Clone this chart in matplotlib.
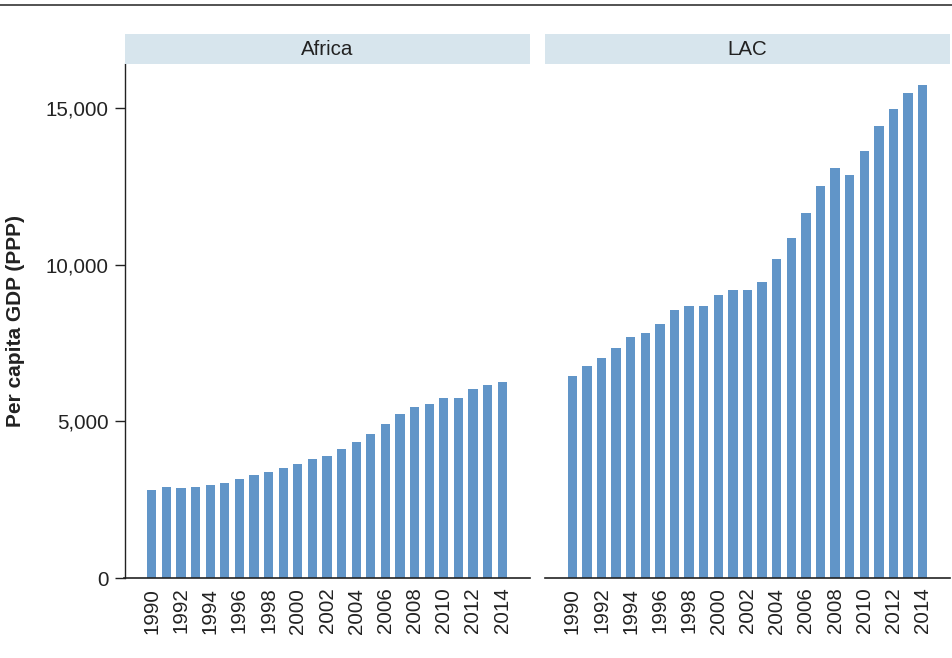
import matplotlib
matplotlib.use("Agg")
import matplotlib.pyplot as plt
from matplotlib.lines import Line2D
from matplotlib.patches import Rectangle
import numpy as np

plt.rcParams['font.family'] = ['Liberation Sans', 'DejaVu Sans']

years = list(range(1990, 2015))
africa = [2809, 2904, 2883, 2904, 2968, 3021, 3160, 3277, 3383, 3500,
          3638, 3787, 3904, 4106, 4330, 4606, 4926, 5245, 5468, 5553,
          5745, 5755, 6042, 6170, 6266]
lac = [6447, 6776, 7032, 7351, 7681, 7819, 8117, 8553, 8691, 8691,
       9043, 9181, 9202, 9447, 10181, 10861, 11659, 12511, 13085, 12862,
       13638, 14426, 14968, 15489, 15744]
panels = ["Africa", "LAC"]
yticks = [0, 5000, 10000, 15000]
ytick_labels = ["0", "5,000", "10,000", "15,000"]
xtick_labels = [str(y) for y in years[::2]]

W, H = 952, 658
fig = plt.figure(figsize=(W / 100, H / 100), dpi=100)
bar_color = "#6195C8"
text_color = "#222222"
strip_color = "#D7E5ED"

ax_bottom = (H - 578) / H
ax_height = (578 - 64) / H
lefts = [124.5 / W, 545 / W]
width = 405 / W

x = np.arange(len(years))
for i, (name, vals) in enumerate(zip(panels, [africa, lac])):
    ax = fig.add_axes([lefts[i], ax_bottom, width, ax_height])
    ax.bar(x, vals, width=0.64, color=bar_color, edgecolor="none")
    ax.set_xlim(-1.87, len(years) - 1 + 1.87)
    ax.set_ylim(0, 16400)
    ax.set_xticks(x[::2])
    ax.set_xticklabels(xtick_labels, rotation=90, fontsize=14.8, color=text_color)
    ax.tick_params(axis='x', length=0, pad=7)
    for s in ["top", "right"]:
        ax.spines[s].set_visible(False)
    ax.spines["bottom"].set_linewidth(1.2)
    ax.spines["bottom"].set_color("#222222")
    if i == 0:
        ax.set_yticks(yticks)
        ax.set_yticklabels(ytick_labels, fontsize=14.8, color=text_color)
        ax.tick_params(axis='y', length=7.5, width=1.0, pad=4, color="#222222")
        ax.spines["left"].set_linewidth(1.0)
        ax.spines["left"].set_color("#222222")
    else:
        ax.spines["left"].set_visible(False)
        ax.set_yticks([])
    # strip
    sax = fig.add_axes([lefts[i], (H - 64) / H, width, 30 / H])
    sax.set_xlim(0, 1)
    sax.set_ylim(0, 1)
    sax.add_patch(Rectangle((0, 0), 1, 1, color=strip_color, lw=0))
    sax.text(0.5, 0.47, name, ha="center", va="center", fontsize=14.8, color=text_color)
    sax.axis("off")

fig.text(16 / W, 1 - 321 / H, "Per capita GDP (PPP)", rotation=90, ha="center",
         va="center", fontsize=15, fontweight="bold", color=text_color)

fig.add_artist(Line2D([0, 1], [1 - 4.5 / H] * 2, color="#444444", lw=1.3,
                      transform=fig.transFigure))

fig.savefig("out.png", dpi=100)
